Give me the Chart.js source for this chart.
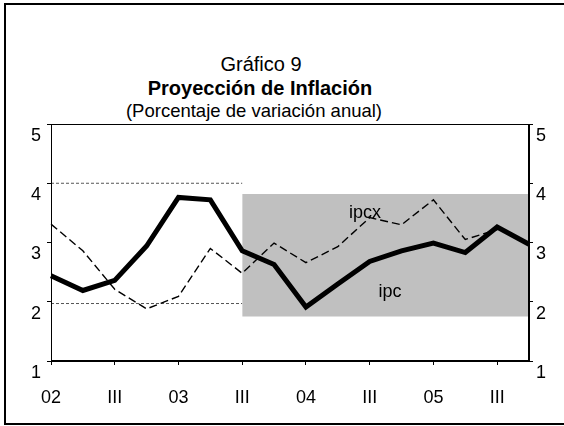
<!DOCTYPE html>
<html>
<head>
<meta charset="utf-8">
<script src="https://cdn.jsdelivr.net/npm/chart.js@4/dist/chart.umd.min.js"></script>
<style>
  html, body { margin: 0; padding: 0; background: #fff; width: 564px; height: 426px; overflow: hidden; }
  body { position: relative; font-family: "Liberation Sans", Arial, sans-serif; color: #000; }
  .frame { position: absolute; left: 4px; top: 3px; width: 600px; height: 422px; box-sizing: border-box; border: 2px solid #000; }
  .ttl { position: absolute; width: 400px; text-align: center; white-space: nowrap; }
  #chart { position: absolute; left: 0; top: 0; }
</style>
</head>
<body>
<div class="frame"></div>
<div class="ttl" style="left:61px; top:52px; font-size:20px; line-height:24px;">Gráfico 9</div>
<div class="ttl" style="left:60px; top:76px; font-size:20px; line-height:24px; font-weight:bold;">Proyección de Inflación</div>
<div class="ttl" style="left:54px; top:99px; font-size:18.5px; line-height:24px;">(Porcentaje de variación anual)</div>
<canvas id="chart" width="564" height="426"></canvas>
<script>
// quarters 2002 Q1 .. 2005 Q4, only every second one gets a label
const quarters = ['02', 'II', 'III', 'IV', '03', 'II', 'III', 'IV', '04', 'II', 'III', 'IV', '05', 'II', 'III', 'IV'];

// inflation, % annual change
const ipc  = [2.44, 2.19, 2.36, 2.94, 3.76, 3.72, 2.86, 2.63, 1.91, 2.30, 2.68, 2.86, 2.99, 2.83, 3.26, 2.97];
const ipcx = [3.31, 2.86, 2.21, 1.88, 2.09, 2.90, 2.48, 2.99, 2.66, 2.93, 3.42, 3.30, 3.72, 3.05, 3.22, null];

// shaded projection band (starts at 03 III)
const bandTop    = [null, null, null, null, null, null, 3.82, 3.82, 3.82, 3.82, 3.82, 3.82, 3.82, 3.82, 3.82, 3.82];
const bandBottom = [null, null, null, null, null, null, 1.75, 1.75, 1.75, 1.75, 1.75, 1.75, 1.75, 1.75, 1.75, 1.75];

// target range lines (dotted)
const rangeTop    = [4.0, 4.0, 4.0, 4.0, 4.0, 4.0, 4.0, null, null, null, null, null, null, null, null, null];
const rangeBottom = [1.97, 1.97, 1.97, 1.97, 1.97, 1.97, 1.97, null, null, null, null, null, null, null, null, null];

const yMin = 1;
const yMax = 5;

// series names written next to the lines: [text, quarter index, value]
const seriesNotes = [['ipcx', 9.85, 3.50], ['ipc', 10.64, 2.17]];

const tickFont = { family: 'Liberation Sans', size: 18 };

const plotBorder = {
    id: 'plotBorder',
    afterDraw(chart) {
        const a = chart.chartArea;
        const ctx = chart.ctx;
        ctx.save();
        ctx.strokeStyle = '#000';
        ctx.lineWidth = 1;
        ctx.strokeRect(Math.round(a.left) + 0.5, Math.round(a.top) + 0.5, Math.round(a.right - a.left) - 1, Math.round(a.bottom - a.top) - 1);
        ctx.restore();
    }
};

const notesPlugin = {
    id: 'notes',
    afterDatasetsDraw(chart) {
        const ctx = chart.ctx;
        const x = chart.scales.x;
        const y = chart.scales.y;
        ctx.save();
        ctx.font = '18px "Liberation Sans"';
        ctx.fillStyle = '#000';
        ctx.textAlign = 'center';
        ctx.textBaseline = 'middle';
        seriesNotes.forEach(n => {
            ctx.fillText(n[0], x.getPixelForValue(n[1]), y.getPixelForValue(n[2]));
        });
        ctx.restore();
    }
};

function lineSet(label, data, extra) {
    return Object.assign({
        label: label,
        data: data,
        pointRadius: 0,
        pointHoverRadius: 0,
        tension: 0,
        spanGaps: false,
        fill: false
    }, extra);
}

new Chart(document.getElementById('chart'), {
    type: 'line',
    data: {
        labels: quarters,
        datasets: [
            lineSet('ipc', ipc, { borderColor: '#000', borderWidth: 5, borderJoinStyle: 'miter', borderCapStyle: 'butt' }),
            lineSet('ipcx', ipcx, { borderColor: '#000', borderWidth: 1.4, borderDash: [8, 4] }),
            lineSet('bandTop', bandTop, { borderWidth: 0, borderColor: 'rgba(0,0,0,0)' }),
            lineSet('bandBottom', bandBottom, { borderWidth: 0, borderColor: 'rgba(0,0,0,0)', fill: '-1', backgroundColor: '#c0c0c0' }),
            lineSet('rangeTop', rangeTop, { borderColor: '#555', borderWidth: 1, borderDash: [3, 2] }),
            lineSet('rangeBottom', rangeBottom, { borderColor: '#555', borderWidth: 1, borderDash: [3, 2] })
        ]
    },
    options: {
        responsive: false,
        animation: false,
        layout: { padding: { top: 124, left: 0, right: 0, bottom: 0 } },
        plugins: {
            legend: { display: false },
            tooltip: { enabled: false },
            title: { display: false }
        },
        scales: {
            x: {
                type: 'category',
                offset: false,
                grid: { drawOnChartArea: false, drawTicks: true, tickLength: 4, color: '#000' },
                border: { color: '#000', width: 1 },
                ticks: {
                    autoSkip: false,
                    maxRotation: 0,
                    padding: 22,
                    color: '#000',
                    font: tickFont,
                    callback: (v, i) => (i % 2 === 0 ? quarters[i] : null)
                },
                afterFit: s => { s.height = 65; }
            },
            y: {
                position: 'left',
                min: yMin,
                max: yMax,
                grid: { drawOnChartArea: false, drawTicks: true, tickLength: 4, color: '#000' },
                border: { color: '#000', width: 1 },
                ticks: { stepSize: 1, padding: 6, labelOffset: 12, color: '#000', font: tickFont },
                afterFit: s => { s.width = 51; }
            },
            y2: {
                position: 'right',
                min: yMin,
                max: yMax,
                grid: { drawOnChartArea: false, drawTicks: true, tickLength: 4, color: '#000' },
                border: { color: '#000', width: 1 },
                ticks: { stepSize: 1, padding: 3, labelOffset: 12, color: '#000', font: tickFont },
                afterFit: s => { s.width = 35; }
            }
        }
    },
    plugins: [plotBorder, notesPlugin]
});
</script>
</body>
</html>
